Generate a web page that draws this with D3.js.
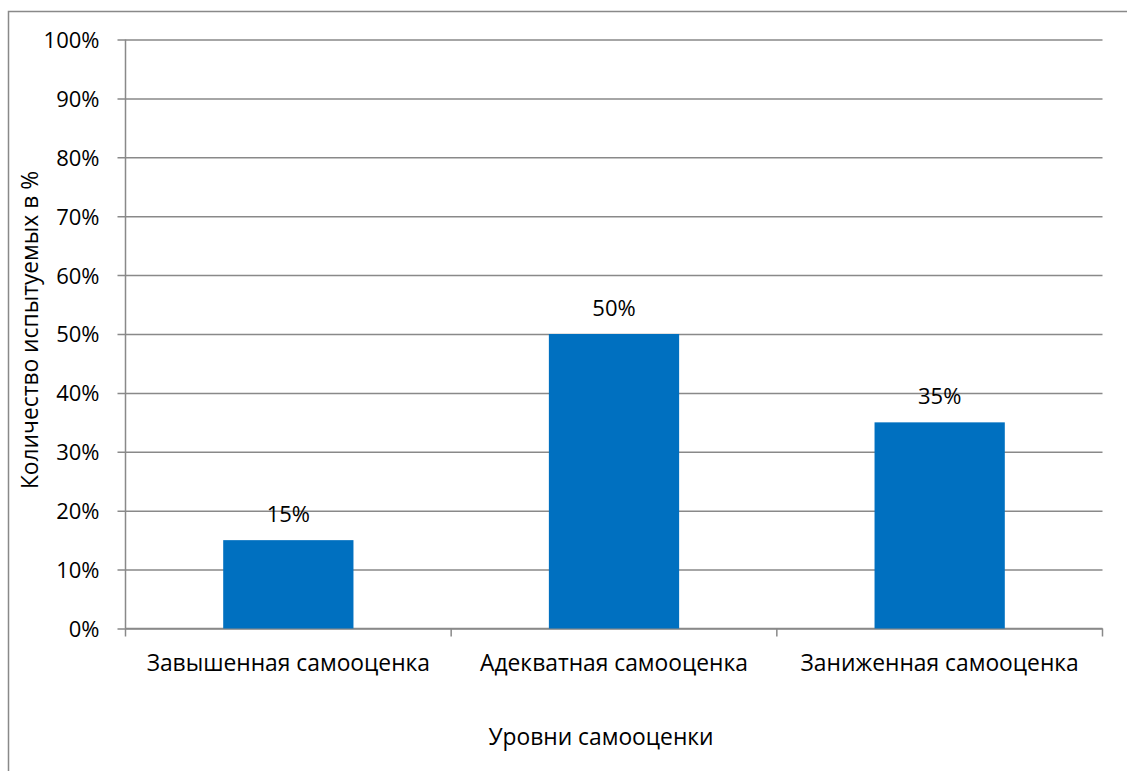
<!DOCTYPE html>
<html>
<head>
<meta charset="utf-8">
<script src="https://cdn.jsdelivr.net/npm/d3@7"></script>
<style>
  html, body { margin: 0; padding: 0; background: #fff; }
  svg { display: block; }
  text { font-family: "Open Sans", "Noto Sans", sans-serif; fill: #000; }
</style>
</head>
<body>
<svg id="chart" width="1127" height="771"></svg>
<script>
// Self-esteem levels and the share of respondents at each level
const categories = ["Завышенная самооценка", "Адекватная самооценка", "Заниженная самооценка"];
const values = [15, 50, 35];
const yTicks = [0, 10, 20, 30, 40, 50, 60, 70, 80, 90, 100];
const yTitle = "Количество испытуемых в %";
const xTitle = "Уровни самооценки";

const svg = d3.select("#chart");
const W = 1127, H = 771;
const plot = { left: 125.5, right: 1102.5, top: 39.5, bottom: 628.5 };
const grid = "#898989";
const barColor = "#0070C0";
const fsNum = 22;   // numeric labels
const fsText = 22.8; // word labels

// Outer chart frame (runs off the right and bottom edges)
svg.append("rect")
  .attr("x", 8.5).attr("y", 11.5)
  .attr("width", W + 10).attr("height", H + 10)
  .attr("fill", "none").attr("stroke", grid).attr("stroke-width", 1.5);

const y = d3.scaleLinear().domain([0, 100]).range([plot.bottom, plot.top]);
const x = d3.scaleBand().domain(categories)
  .range([plot.left, plot.right])
  .paddingInner(0.6).paddingOuter(0.3);

// Horizontal gridlines with tick marks and labels
const yAxis = d3.axisLeft(y).tickValues(yTicks)
  .tickSize(plot.right - plot.left + 8)
  .tickFormat(d => d + "%");
const gy = svg.append("g")
  .attr("transform", `translate(${plot.right},0)`)
  .call(yAxis);
gy.select(".domain").remove();
gy.selectAll(".tick line").attr("stroke", grid).attr("stroke-width", 1.5);
gy.selectAll(".tick text")
  .attr("x", -(plot.right - plot.left) - 26)
  .attr("dy", "0.36em")
  .style("font-size", fsNum + "px");

// Vertical axis line
svg.append("line")
  .attr("x1", plot.left).attr("x2", plot.left)
  .attr("y1", plot.top).attr("y2", plot.bottom)
  .attr("stroke", grid).attr("stroke-width", 1.5);

// Category axis: boundary ticks between bands
const step = x.step();
const bounds = d3.range(categories.length + 1).map(i => plot.left + i * step);
const gx = svg.append("g");
gx.append("line")
  .attr("x1", plot.left).attr("x2", plot.right)
  .attr("y1", plot.bottom).attr("y2", plot.bottom)
  .attr("stroke", grid).attr("stroke-width", 1.5);
gx.selectAll("line.bt").data(bounds).enter().append("line")
  .attr("class", "bt")
  .attr("x1", d => d).attr("x2", d => d)
  .attr("y1", plot.bottom).attr("y2", plot.bottom + 8)
  .attr("stroke", grid).attr("stroke-width", 1.5);
gx.selectAll("text").data(categories).enter().append("text")
  .attr("x", d => x(d) + x.bandwidth() / 2)
  .attr("y", 671)
  .attr("text-anchor", "middle")
  .style("font-size", fsText + "px")
  .text(d => d);

// Bars
svg.append("g").selectAll("rect").data(values).enter().append("rect")
  .attr("x", (d, i) => x(categories[i]))
  .attr("y", d => y(d))
  .attr("width", x.bandwidth())
  .attr("height", d => y(0) - y(d))
  .attr("fill", barColor);

// Value labels above bars
svg.append("g").selectAll("text").data(values).enter().append("text")
  .attr("x", (d, i) => x(categories[i]) + x.bandwidth() / 2)
  .attr("y", d => y(d) - 18)
  .attr("text-anchor", "middle")
  .style("font-size", fsNum + "px")
  .text(d => d + "%");

// Axis titles
svg.append("text")
  .attr("transform", `translate(38,330) rotate(-90)`)
  .attr("text-anchor", "middle")
  .style("font-size", fsText + "px")
  .text(yTitle);

svg.append("text")
  .attr("x", 601).attr("y", 745)
  .attr("text-anchor", "middle")
  .style("font-size", fsText + "px")
  .text(xTitle);
</script>
</body>
</html>
